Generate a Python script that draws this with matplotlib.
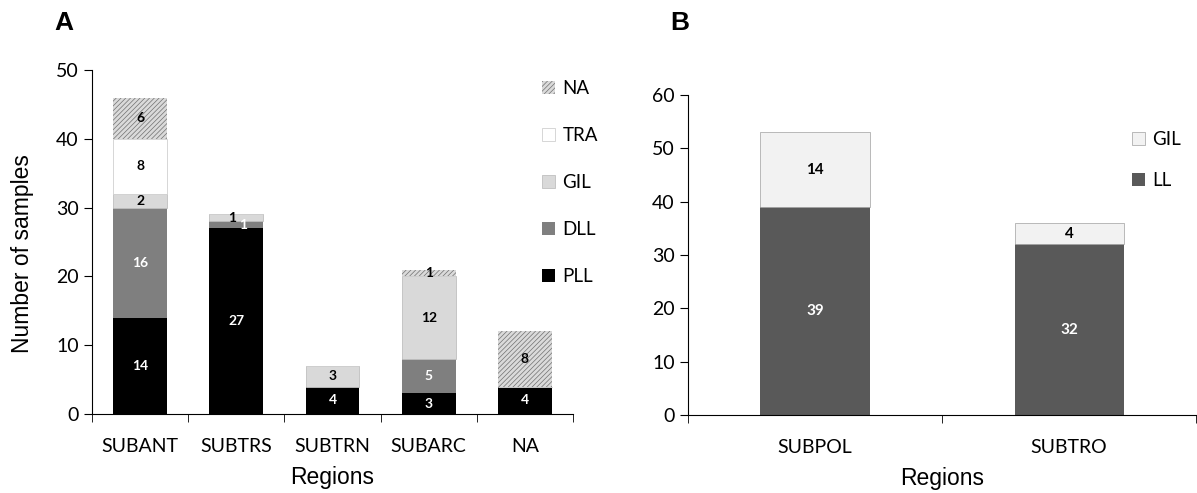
import numpy as np
import matplotlib.pyplot as plt

plt.rcParams['font.family'] = ['Lato', 'DejaVu Sans']
plt.rcParams['hatch.linewidth'] = 0.5

# panel A data
regions_a = ["SUBANT", "SUBTRS", "SUBTRN", "SUBARC", "NA"]
PLL = [14, 27, 4, 3, 4]
DLL = [16, 1, 0, 5, 0]
GIL = [2, 1, 3, 12, 0]
TRA = [8, 0, 0, 0, 0]
NA_ = [6, 0, 0, 1, 8]

# panel B data
regions_b = ["SUBPOL", "SUBTRO"]
LL_b = [39, 32]
GIL_b = [14, 4]

fig = plt.figure(figsize=(11.97, 4.93), dpi=100)
axA = fig.add_axes([0.0769, 0.1602, 0.4018, 0.6978])
axB = fig.add_axes([0.5748, 0.1582, 0.4245, 0.6491])

# styles for each series
styA = [
    ("PLL", PLL, dict(color="black"), "white"),
    ("DLL", DLL, dict(color="#7f7f7f"), "white"),
    ("GIL", GIL, dict(color="#d9d9d9", edgecolor="#bfbfbf", linewidth=0.6), "black"),
    ("TRA", TRA, dict(color="white", edgecolor="#d0d0d0", linewidth=0.6), "black"),
    ("NA", NA_, dict(facecolor="#dadada", edgecolor="#707070", hatch="///////", linewidth=0), "black"),
]

x = np.arange(len(regions_a))
bottom = np.zeros(len(regions_a))
handles = []
for name, vals, kw, tc in styA:
    vals = np.array(vals, dtype=float)
    bars = axA.bar(x, vals, 0.56, bottom=bottom, label=name, **kw)
    for i, v in enumerate(vals):
        if v > 0:
            dx = 0
            if regions_a[i] == "SUBTRS" and v == 1:
                dx = -3 if name == "GIL" else 5
            axA.annotate(str(int(v)), (x[i], bottom[i] + v / 2), xytext=(dx, 0),
                         textcoords="offset points", ha="center", va="center",
                         fontsize=10, fontweight="bold", color=tc)
    handles.append(bars)
    bottom += vals

axA.set_xlim(-0.5, len(regions_a) - 0.5)
axA.set_ylim(0, 50)
axA.set_yticks(range(0, 51, 10))
axA.set_xticks(x)
axA.set_xticklabels(regions_a)
axA.set_xticks(np.arange(-0.5, len(regions_a)), minor=True)
axA.tick_params(axis="x", which="major", length=0, pad=17, labelsize=14)
axA.tick_params(axis="x", which="minor", length=6, direction="out")
axA.tick_params(axis="y", length=6, labelsize=14)
axA.set_ylabel("Number of samples", family="Liberation Sans", fontsize=16.5)
axA.yaxis.set_label_coords(-0.12, 0.465)
axA.set_xlabel("Regions", family="Liberation Sans", fontsize=16.5, labelpad=8)
for s in ["top", "right"]:
    axA.spines[s].set_visible(False)
axA.legend(handles[::-1], [h.get_label() for h in handles[::-1]], frameon=False,
           loc="upper left", bbox_to_anchor=(0.9, 1.02), fontsize=13.5,
           handlelength=0.7, handleheight=0.7, handletextpad=0.4, labelspacing=1.6)

# panel B
xb = np.arange(len(regions_b))
b1 = axB.bar(xb, LL_b, 0.43, color="#595959", label="LL")
b2 = axB.bar(xb, GIL_b, 0.43, bottom=LL_b, color="#f2f2f2", edgecolor="#a0a0a0",
             linewidth=0.5, label="GIL")
for i in range(len(regions_b)):
    axB.text(xb[i], LL_b[i] / 2, str(LL_b[i]), ha="center", va="center",
             fontsize=11, fontweight="bold", color="white")
    axB.text(xb[i], LL_b[i] + GIL_b[i] / 2, str(GIL_b[i]), ha="center", va="center",
             fontsize=11, fontweight="bold", color="black")
axB.set_xlim(-0.5, len(regions_b) - 0.5)
axB.set_ylim(0, 60)
axB.set_yticks(range(0, 61, 10))
axB.set_xticks(xb)
axB.set_xticklabels(regions_b)
axB.set_xticks(np.arange(-0.5, len(regions_b)), minor=True)
axB.tick_params(axis="x", which="major", length=0, pad=17, labelsize=14)
axB.tick_params(axis="x", which="minor", length=6, direction="out")
axB.tick_params(axis="y", length=6, labelsize=14)
axB.set_xlabel("Regions", family="Liberation Sans", fontsize=16.5, labelpad=8)
for s in ["top", "right"]:
    axB.spines[s].set_visible(False)
axB.legend([b2, b1], ["GIL", "LL"], frameon=False, loc="upper left",
           bbox_to_anchor=(0.84, 0.94), fontsize=13.5, handlelength=0.7,
           handleheight=0.7, handletextpad=0.4, labelspacing=1.3)

fig.text(64 / 1197, 1 - 23 / 493, "A", fontsize=19, fontweight="bold",
         family="Liberation Sans", ha="center", va="center")
fig.text(680 / 1197, 1 - 23 / 493, "B", fontsize=19, fontweight="bold",
         family="Liberation Sans", ha="center", va="center")

fig.savefig("out.png", dpi=100)
